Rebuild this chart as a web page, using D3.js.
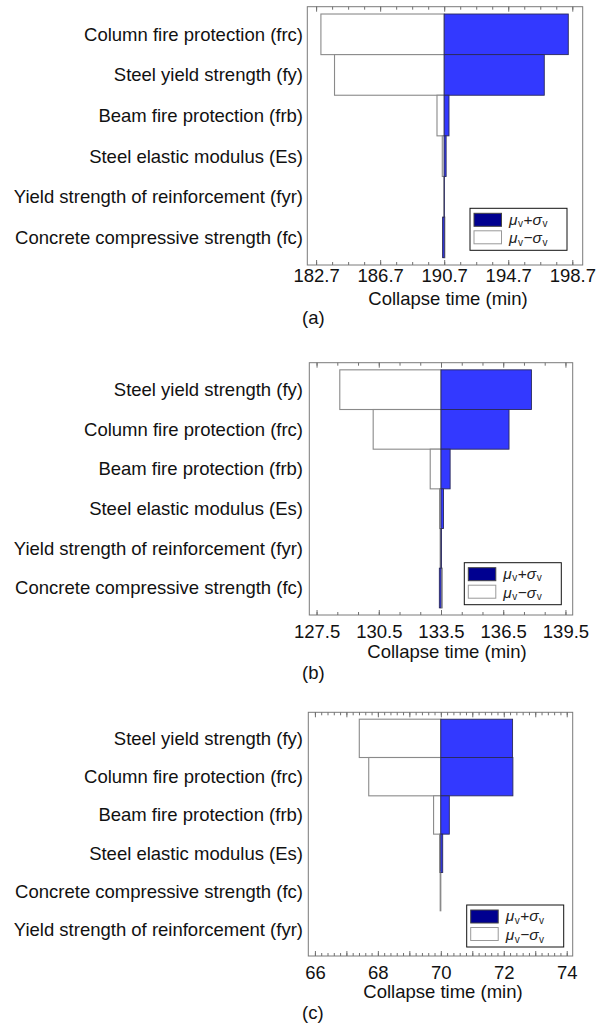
<!DOCTYPE html>
<html>
<head>
<meta charset="utf-8">
<script src="https://cdn.jsdelivr.net/npm/d3@7"></script>
<style>
    body { margin: 0; background: #fff; }
    svg { display: block; font-family: "Liberation Sans", Arial, sans-serif; }
</style>
</head>
<body>
<div id="chart"></div>
<script>
// datos de cada panel (a), (b), (c)
const labelsA = ['Column fire protection (frc)', 'Steel yield strength (fy)', 'Beam fire protection (frb)',
    'Steel elastic modulus (Es)', 'Yield strength of reinforcement (fyr)', 'Concrete compressive strength (fc)'];
const meanA = 190.7;
const highA = [198.45, 196.95, 191.0, 190.82, 190.71, 190.6];
const lowA = [183.0, 183.85, 190.25, 190.58, 190.68, 190.74];
const domainA = [182.15, 199.35];
const ticksA = [182.7, 186.7, 190.7, 194.7, 198.7];
const minorA = [182.7, 183.7, 184.7, 185.7, 186.7, 187.7, 188.7, 189.7, 190.7, 191.7, 192.7, 193.7, 194.7, 195.7, 196.7, 197.7, 198.7];

const labelsB = ['Steel yield strength (fy)', 'Column fire protection (frc)', 'Beam fire protection (frb)',
    'Steel elastic modulus (Es)', 'Yield strength of reinforcement (fyr)', 'Concrete compressive strength (fc)'];
const meanB = 133.5;
const highB = [137.86, 136.78, 133.94, 133.62, 133.52, 133.42];
const lowB = [128.62, 130.23, 132.98, 133.43, 133.46, 133.56];
const domainB = [127.15, 139.85];
const ticksB = [127.5, 130.5, 133.5, 136.5, 139.5];
const minorB = [127.5, 128.5, 129.5, 130.5, 131.5, 132.5, 133.5, 134.5, 135.5, 136.5, 137.5, 138.5, 139.5];

const labelsC = ['Steel yield strength (fy)', 'Column fire protection (frc)', 'Beam fire protection (frb)',
    'Steel elastic modulus (Es)', 'Concrete compressive strength (fc)', 'Yield strength of reinforcement (fyr)'];
const meanC = 70;
const highC = [72.28, 72.29, 70.27, 70.06, 70.0, 70.0];
const lowC = [67.41, 67.71, 69.77, 69.96, 69.98, 70.0];
const domainC = [65.79, 74.19];
const ticksC = [66, 68, 70, 72, 74];
const majorC = [66, 67, 68, 69, 70, 71, 72, 73, 74];
const minorC = [66, 66.2, 66.4, 66.6, 66.8, 67, 67.2, 67.4, 67.6, 67.8, 68, 68.2, 68.4, 68.6, 68.8,
    69, 69.2, 69.4, 69.6, 69.8, 70, 70.2, 70.4, 70.6, 70.8, 71, 71.2, 71.4, 71.6, 71.8,
    72, 72.2, 72.4, 72.6, 72.8, 73, 73.2, 73.4, 73.6, 73.8, 74];

const width = 596,
    height = 1026;

const svg = d3.select('#chart').append('svg')
    .attr('width', width)
    .attr('height', height);

svg.append('rect').attr('width', width).attr('height', height).attr('fill', '#fff');

function panel(cfg) {
    const x = d3.scaleLinear().domain(cfg.domain).range([cfg.x0, cfg.x1]);
    const y = d3.scaleBand().domain(cfg.labels).range([cfg.y0, cfg.y1])
        .paddingInner(0).paddingOuter(0.18);

    const g = svg.append('g');
    const filas = cfg.labels.map((name, i) => ({ name: name, low: cfg.low[i], high: cfg.high[i] }));

    // barras blancas (media - sigma)
    g.selectAll('rect.low').data(filas).enter().append('rect')
        .attr('class', 'low')
        .attr('x', d => x(Math.min(d.low, cfg.mean)))
        .attr('width', d => Math.abs(x(d.low) - x(cfg.mean)))
        .attr('y', d => y(d.name))
        .attr('height', y.bandwidth())
        .attr('fill', '#fff')
        .attr('stroke', '#8a8a8a')
        .attr('stroke-width', 1.1);

    // barras azules (media + sigma)
    g.selectAll('rect.high').data(filas).enter().append('rect')
        .attr('class', 'high')
        .attr('x', d => x(Math.min(d.high, cfg.mean)))
        .attr('width', d => Math.abs(x(d.high) - x(cfg.mean)))
        .attr('y', d => y(d.name))
        .attr('height', y.bandwidth())
        .attr('fill', '#3339ff')
        .attr('stroke', '#2a2a5a')
        .attr('stroke-width', 0.9);

    // marco
    g.append('rect')
        .attr('x', cfg.x0).attr('y', cfg.y0)
        .attr('width', cfg.x1 - cfg.x0).attr('height', cfg.y1 - cfg.y0)
        .attr('fill', 'none')
        .attr('stroke', '#7a7a7a')
        .attr('stroke-width', 1);

    // ticks abajo y arriba (hacia adentro)
    const ejes = [
        { vals: cfg.minor, size: 3 },
        { vals: cfg.major || cfg.ticks, size: 5 }
    ];
    ejes.forEach(e => {
        const b = g.append('g').attr('transform', `translate(0,${cfg.y1})`)
            .call(d3.axisBottom(x).tickValues(e.vals).tickSize(-e.size).tickFormat(''));
        const t = g.append('g').attr('transform', `translate(0,${cfg.y0})`)
            .call(d3.axisTop(x).tickValues(e.vals).tickSize(-e.size).tickFormat(''));
        [b, t].forEach(a => {
            a.select('.domain').remove();
            a.selectAll('line').attr('stroke', '#707070');
        });
    });

    // etiquetas del eje x
    const lab = g.append('g').attr('transform', `translate(0,${cfg.y1})`)
        .call(d3.axisBottom(x).tickValues(cfg.ticks).tickSize(0).tickPadding(cfg.pad).tickFormat(cfg.fmt));
    lab.select('.domain').remove();
    lab.selectAll('text')
        .attr('font-size', 18.5)
        .attr('font-family', '"Liberation Sans", Arial, sans-serif')
        .attr('fill', '#111');

    // etiquetas de las variables
    g.selectAll('text.var').data(filas).enter().append('text')
        .attr('class', 'var')
        .attr('x', 303)
        .attr('y', d => y(d.name) + y.bandwidth() / 2)
        .attr('dy', '0.35em')
        .attr('text-anchor', 'end')
        .attr('font-size', 18.5)
        .attr('fill', '#111')
        .text(d => d.name);

    // titulo eje
    g.append('text')
        .attr('x', cfg.titleX)
        .attr('y', cfg.titleY)
        .attr('text-anchor', 'middle')
        .attr('font-size', 18.5)
        .attr('fill', '#111')
        .text('Collapse time (min)');

    g.append('text')
        .attr('x', 302)
        .attr('y', cfg.letterY)
        .attr('font-size', 18.5)
        .attr('fill', '#111')
        .text(cfg.letter);

    // leyenda
    const leg = g.append('g').attr('transform', `translate(${cfg.legX},${cfg.legY})`);
    leg.append('rect')
        .attr('width', 97).attr('height', 42)
        .attr('fill', '#fff').attr('stroke', '#111').attr('stroke-width', 1);
    const items = [
        { fill: '#000090', stroke: '#444', sign: '+' },
        { fill: '#fff', stroke: '#999', sign: '\u2212' }
    ];
    items.forEach((it, i) => {
        leg.append('rect')
            .attr('x', 4).attr('y', 5 + i * 17.5)
            .attr('width', 27.5).attr('height', 13)
            .attr('fill', it.fill).attr('stroke', it.stroke).attr('stroke-width', 1);
        const t = leg.append('text')
            .attr('x', 39).attr('y', 16.3 + i * 18.7)
            .attr('font-size', 15.5)
            .attr('fill', '#222');
        t.append('tspan').attr('font-style', 'italic').text('\u03bc');
        t.append('tspan').attr('font-size', 10).attr('dx', 0.5).attr('dy', 2.5).text('v');
        t.append('tspan').attr('dx', 0.5).attr('dy', -2.5).text(it.sign);
        t.append('tspan').attr('font-style', 'italic').text('\u03c3');
        t.append('tspan').attr('font-size', 10).attr('dx', 0.5).attr('dy', 2.5).text('v');
    });
}

panel({
    labels: labelsA, low: lowA, high: highA, mean: meanA, domain: domainA,
    ticks: ticksA, minor: minorA, fmt: d3.format('.1f'),
    x0: 307.3, x1: 582.7, y0: 6.7, y1: 265, pad: 4,
    titleX: 448, titleY: 305, letter: '(a)', letterY: 324,
    legX: 470, legY: 208.3
});

panel({
    labels: labelsB, low: lowB, high: highB, mean: meanB, domain: domainB,
    ticks: ticksB, minor: minorB, fmt: d3.format('.1f'),
    x0: 309.3, x1: 572.7, y0: 362.7, y1: 615, pad: 9.4,
    titleX: 447, titleY: 658, letter: '(b)', letterY: 679,
    legX: 464.3, legY: 562.7
});

panel({
    labels: labelsC, low: lowC, high: highC, mean: meanC, domain: domainC,
    ticks: ticksC, major: majorC, minor: minorC, fmt: d3.format('d'),
    x0: 308.3, x1: 572.7, y0: 712.3, y1: 956, pad: 9.4,
    titleX: 443, titleY: 998, letter: '(c)', letterY: 1019,
    legX: 466.7, legY: 905
});
</script>
</body>
</html>
